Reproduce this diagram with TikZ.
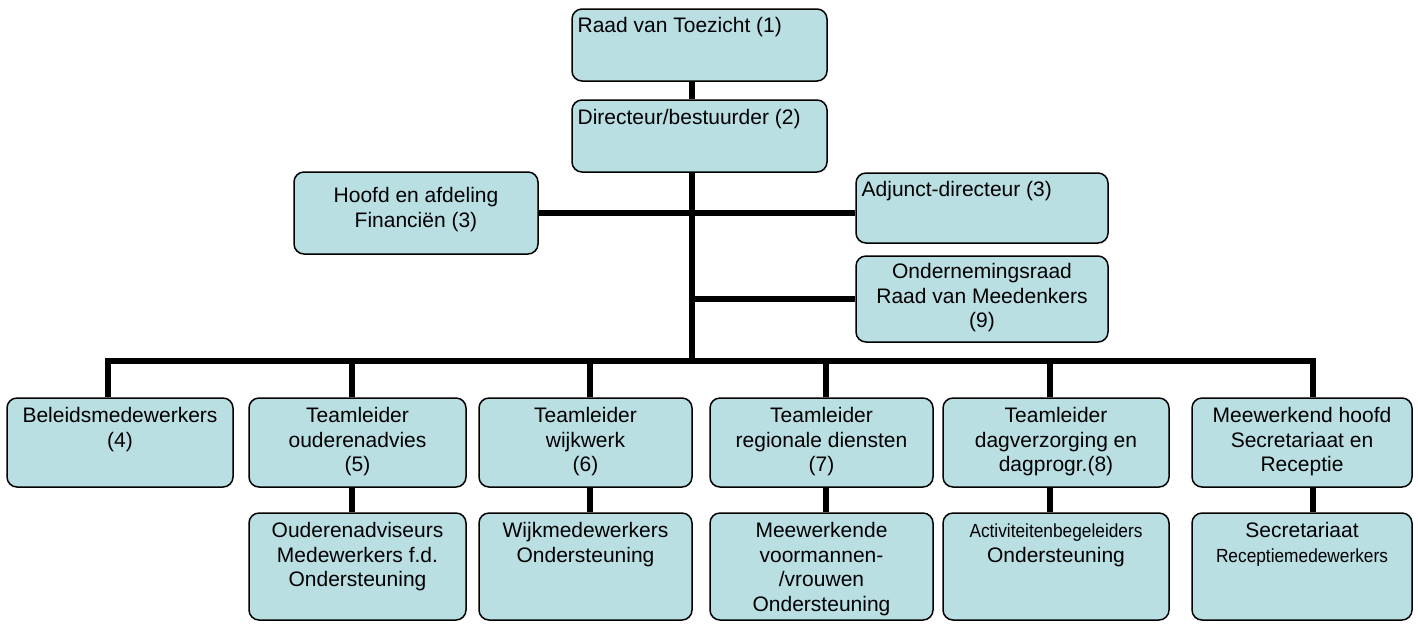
\documentclass[tikz,border=0pt]{standalone}
\usepackage{fontspec}
\setmainfont{Liberation Sans}
\usepackage{xcolor}
\usetikzlibrary{positioning}

\definecolor{boxblue}{RGB}{185,223,227}

\newcommand{\narrowtext}[1]{\scalebox{0.91}[1]{\fontsize{9.5}{12}\selectfont #1}}

\begin{document}
\begin{tikzpicture}[x=0.5pt, y=-0.5pt,
  box/.style={draw=black, line width=0.75pt, fill=boxblue, rounded corners=5pt, inner sep=0pt},
  lbl/.style={font=\fontsize{10.5}{12.2}\selectfont, align=center, inner sep=0pt},
  link/.style={line width=2.6pt}]

\useasboundingbox (0,0) rectangle (1418,623);

% draw top boxes
\node[box, minimum width=127.5pt, minimum height=36pt] (rvt) at (699.5,45) {};
\node[box, minimum width=127.5pt, minimum height=36pt] (dir) at (699.5,136) {};
\node[box, minimum width=122pt, minimum height=41pt] (fin) at (416,213) {};
\node[box, minimum width=126pt, minimum height=35pt] (adj) at (982,208) {};
\node[box, minimum width=126pt, minimum height=43pt] (or) at (982,299) {};

% draw middle row
\node[box, minimum width=113pt, minimum height=44.5pt] (bel) at (120,442.5) {};
\node[box, minimum width=108.5pt, minimum height=44.5pt] (oud) at (357.5,442.5) {};
\node[box, minimum width=106.5pt, minimum height=44.5pt] (wijk) at (585.5,442.5) {};
\node[box, minimum width=111.5pt, minimum height=44.5pt] (reg) at (821.5,442.5) {};
\node[box, minimum width=113pt, minimum height=44.5pt] (dag) at (1056,442.5) {};
\node[box, minimum width=110pt, minimum height=44.5pt] (mee) at (1302,442.5) {};

% draw bottom row
\node[box, minimum width=108.5pt, minimum height=53.5pt] (oudl) at (357.5,566.5) {};
\node[box, minimum width=106.5pt, minimum height=53.5pt] (wijkl) at (585.5,566.5) {};
\node[box, minimum width=111.5pt, minimum height=53.5pt] (regl) at (821.5,566.5) {};
\node[box, minimum width=113pt, minimum height=53.5pt] (dagl) at (1056,566.5) {};
\node[box, minimum width=110pt, minimum height=53.5pt] (meel) at (1302,566.5) {};

% draw labels
\node[lbl, anchor=north west] (rvt-t) at ([xshift=3pt, yshift=-3.6pt]rvt.north west) {\strut Raad van Toezicht (1)};
\node[lbl, anchor=north west] (dir-t) at ([xshift=3pt, yshift=-4.1pt]dir.north west) {\strut Directeur/bestuurder (2)};
\node[lbl, below=7.1pt of fin.north] (fin-t) {\strut Hoofd en afdeling\\Financiën (3)};
\node[lbl, anchor=north west] (adj-t) at ([xshift=3pt, yshift=-3.6pt]adj.north west) {\strut Adjunct-directeur (3)};
\node[lbl, below=3.1pt of or.north] (or-t) {\strut Ondernemingsraad\\Raad van Meedenkers\\(9)};

\node[lbl, below=4.1pt of bel.north] (bel-t) {\strut Beleidsmedewerkers\\(4)};
\node[lbl, below=4.1pt of oud.north] (oud-t) {\strut Teamleider\\ouderenadvies\\(5)};
\node[lbl, below=4.1pt of wijk.north] (wijk-t) {\strut Teamleider\\wijkwerk\\(6)};
\node[lbl, below=4.1pt of reg.north] (reg-t) {\strut Teamleider\\regionale diensten\\(7)};
\node[lbl, below=4.1pt of dag.north] (dag-t) {\strut Teamleider\\dagverzorging en\\dagprogr.(8)};
\node[lbl, below=4.1pt of mee.north] (mee-t) {\strut Meewerkend hoofd\\Secretariaat en\\Receptie};

\node[lbl, below=4.1pt of oudl.north] (oudl-t) {\strut Ouderenadviseurs\\Medewerkers f.d.\\Ondersteuning};
\node[lbl, below=4.1pt of wijkl.north] (wijkl-t) {\strut Wijkmedewerkers\\Ondersteuning};
\node[lbl, below=4.1pt of regl.north] (regl-t) {\strut Meewerkende\\voormannen-\\/vrouwen\\Ondersteuning};
\node[lbl, below=4.1pt of dagl.north] (dagl-t) {\strut\narrowtext{Activiteitenbegeleiders}\\Ondersteuning};
\node[lbl, below=4.1pt of meel.north] (meel-t) {\strut Secretariaat\\\narrowtext{Receptiemedewerkers}};

% draw connectors
\coordinate (t) at (692,361);
\foreach \n/\x in {1/108, 2/352, 3/590, 4/826, 5/1050, 6/1313}
  \coordinate (b\n) at (\x,361);

\draw[link] (t |- rvt.south) -- (t |- dir.north);
\draw[link] (t |- dir.south) -- (t);
\draw[link] (fin.east) -- (fin.east -| adj.west);
\draw[link] (t |- or.west) -- (or.west);
\draw[link] (b1 |- bel.north) -- (b1) -- (b6) -- (b6 |- mee.north);
\foreach \b/\u/\l in {b2/oud/oudl, b3/wijk/wijkl, b4/reg/regl, b5/dag/dagl, b6/mee/meel}
  \draw[link] (\b |- \u.south) -- (\b |- \l.north);
\foreach \b/\u in {b2/oud, b3/wijk, b4/reg, b5/dag}
  \draw[link] (\b) -- (\b |- \u.north);

\end{tikzpicture}
\end{document}
